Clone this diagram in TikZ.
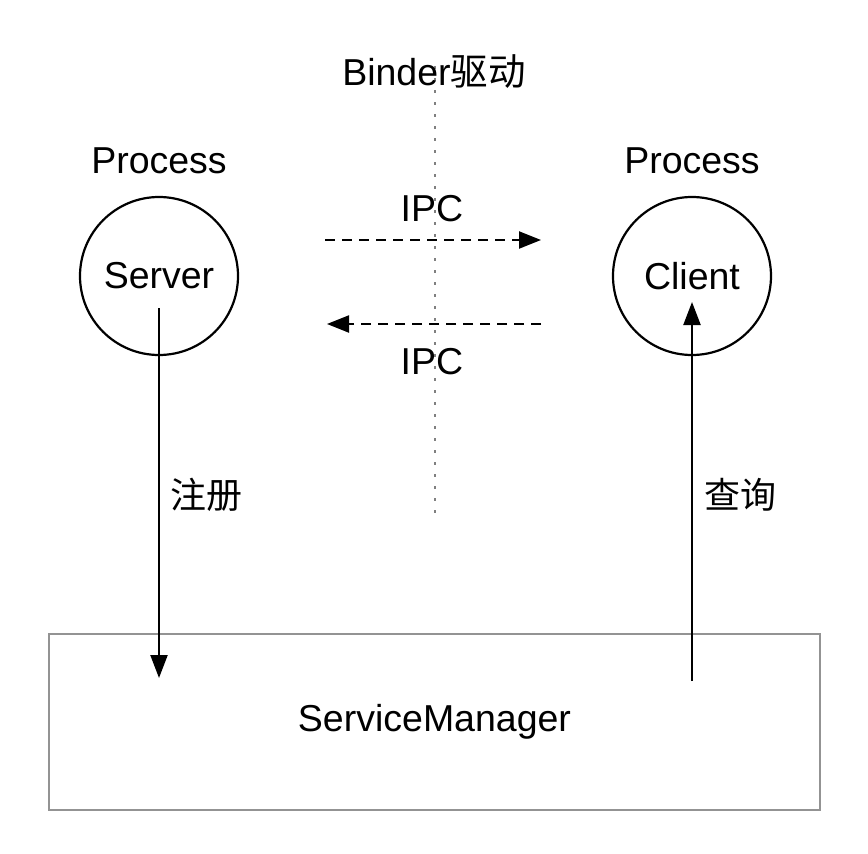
\documentclass[tikz,border=0pt]{standalone}
\usepackage{fontspec}
\setmainfont{Liberation Sans}
\newfontfamily\cjk{Noto Sans CJK SC}
\usetikzlibrary{arrows.meta}
\begin{document}
\begin{tikzpicture}[x=1pt,y=-1pt,
  every node/.style={font=\fontsize{37.5pt}{42pt}\selectfont, inner sep=0pt},
  cjkfont/.style={font=\fontsize{36pt}{40pt}\selectfont\cjk},
  proc/.style={circle,draw,line width=2.2pt,minimum size=158pt},
  lbl/.style={anchor=center},
  ipc/.style={dashed,dash pattern=on 10pt off 7pt,line width=2.2pt,-{Triangle[length=22pt,width=17pt]}},
  reg/.style={line width=2.2pt,-{Triangle[length=23pt,width=17pt]}},
  binder/.style={draw=gray,line width=2.8pt,dash pattern=on 3pt off 9pt},
  smbox/.style={rectangle,draw=gray!85,line width=2.2pt,minimum width=771pt,minimum height=176pt}]
\useasboundingbox (0,0) rectangle (868,854);
\fill[white] (0,0) rectangle (868,854);
% ServiceManager
\node[smbox] (sm) at (434.5,722) {ServiceManager};
% Binder line
\coordinate (bt) at (435,66);
\coordinate (bb) at (435,516);
\draw[binder] (bt) -- (bb);
\node[lbl] (binder) at (434,72) {Binder{\cjk 驱动}};
% processes
\node[proc] (server) at (159,276) {Server};
\node[proc] (client) at (692,276) {Client};
\node[lbl] (p1) at (159,161) {Process};
\node[lbl] (p2) at (692,161) {Process};
% IPC arrows
\coordinate (a1s) at (325,240);
\coordinate (a1e) at (541,240);
\coordinate (a2s) at (541,324);
\coordinate (a2e) at (327,324);
\draw[ipc] (a1s) -- (a1e);
\draw[ipc] (a2s) -- (a2e);
\node[lbl] (ipc1) at (432,209) {IPC};
\node[lbl] (ipc2) at (432,362) {IPC};
% register / query
\coordinate (rs) at (159,308);
\coordinate (re) at (159,678);
\coordinate (qs) at (692,681);
\coordinate (qe) at (692,302);
\draw[reg] (rs) -- (re);
\draw[reg] (qs) -- (qe);
\node[lbl,cjkfont] (zc) at (206,495) {注册};
\node[lbl,cjkfont] (cx) at (740,495) {查询};
\end{tikzpicture}
\end{document}
